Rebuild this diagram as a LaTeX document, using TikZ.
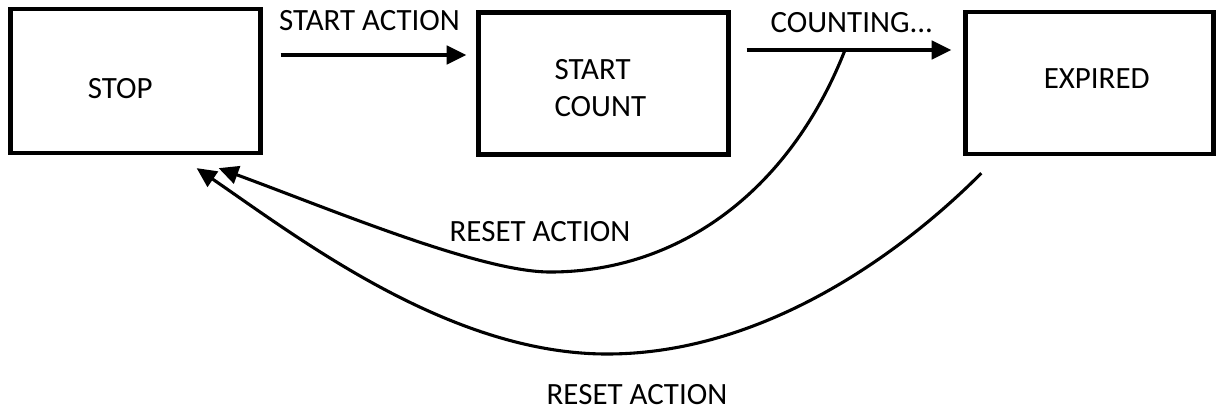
\documentclass[tikz,border=0pt]{standalone}
\usepackage{fontspec}
\setmainfont{Carlito}
\usetikzlibrary{arrows.meta, positioning, calc}

\begin{document}
\begin{tikzpicture}[
  x=0.025cm, y=-0.025cm,
  every node/.style={font=\fontsize{22}{26}\selectfont},
  state/.style={draw, line width=3pt, minimum width=6.25cm,
                minimum height=3.6cm},
  flow/.style={->, line width=2.6pt},
  back/.style={->, line width=2.2pt},
  >={Triangle[length=14pt, width=13pt]}
]
\useasboundingbox (0,0) rectangle (1217,410);

% states (text sits a little off centre, as in the sketch)
\node[state, label={[xshift=-0.38cm, yshift=-0.2cm]center:STOP}] (stop) at (135.5, 81) {};
\node[state, minimum height=3.55cm,
      label={[align=left, xshift=-0.08cm, yshift=-0.11cm]center:START\\COUNT}] (count) at (603.5, 83.5) {};
\node[state, minimum width=6.2cm, minimum height=3.55cm,
      label={[xshift=0.18cm, yshift=0.12cm]center:EXPIRED}] (expired) at (1089.5, 83) {};

% rows of the forward arrows
\coordinate (row1) at (0, 55);
\coordinate (row2) at (0, 50);
\coordinate (tap) at (845, 50);

% forward arrows
\draw[flow, shorten <=0.45cm, shorten >=0.25cm] (stop.east |- row1) -- (count.west |- row1)
  node[midway, above=0.45cm] {START ACTION};
\draw[flow, shorten <=0.4cm, shorten >=0.3cm] (count.east |- row2) -- (expired.west |- row2)
  node[midway, above=0.28cm, xshift=0.12cm] {COUNTING...};

% reset arrows
\draw[back] (tap) .. controls (790,190) and (680,272) .. (550,272)
  node[above=0.6cm, xshift=-0.25cm] {RESET ACTION}
  .. controls (480,272) and (330,209) .. ($(stop.south east)+(-44,13)$);
\draw[back] ($(expired.south west)+(18,17)$) .. controls (910,245) and (770,354) .. (607,354)
  node[below=0.6cm, xshift=0.75cm] {RESET ACTION}
  .. controls (450,354) and (300,239) .. ($(stop.south east)+(-66,13)$);
\end{tikzpicture}
\end{document}
